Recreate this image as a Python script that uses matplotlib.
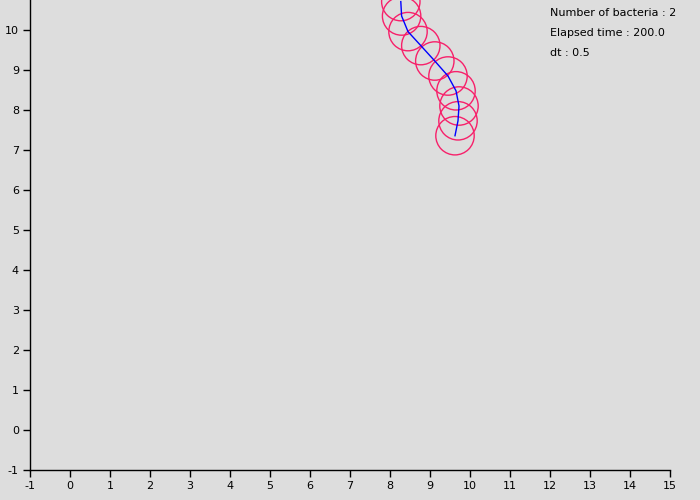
import matplotlib
matplotlib.use("Agg")
import matplotlib.pyplot as plt
from matplotlib.patches import Circle

plt.rcParams["axes.unicode_minus"] = False

# Bacterium positions (circle centers), in data units
pos_x = [9.625, 9.70, 9.725, 9.65, 9.45, 9.12, 8.77, 8.45, 8.29, 8.27]
pos_y = [7.357, 7.73, 8.10, 8.48, 8.85, 9.225, 9.61, 9.96, 10.35, 10.71]
radius = 0.48

info_lines = ["Number of bacteria : 2", "Elapsed time : 200.0", "dt : 0.5"]
x_ticks = list(range(-1, 16))
y_ticks = list(range(-1, 11))

bg = "#dddddd"
fig = plt.figure(figsize=(7, 5), dpi=100, facecolor=bg)
ax = fig.add_axes([30/700, 30/500, 640/700, 470/500], facecolor=bg)

for cx, cy in zip(pos_x, pos_y):
    ax.add_patch(Circle((cx, cy), radius, fill=False, edgecolor="#f7206a", lw=1.0, clip_on=True))
ax.plot(pos_x, pos_y, color="#0000ff", lw=1.0)

ax.set_xlim(-1, 15)
ax.set_ylim(-1, 10.75)
ax.set_xticks(x_ticks)
ax.set_yticks(y_ticks)
ax.tick_params(direction="out", length=5, width=1, labelsize=8, colors="black", pad=3)
for s in ["top", "right"]:
    ax.spines[s].set_visible(False)
for s in ["left", "bottom"]:
    ax.spines[s].set_linewidth(1.0)
    ax.spines[s].set_color("black")

for i, t in enumerate(info_lines):
    fig.text(550/700, 1 - (13 + 20*i)/500, t, fontsize=8, va="center", ha="left", color="black")

fig.savefig("out.png", dpi=100, facecolor=bg)
